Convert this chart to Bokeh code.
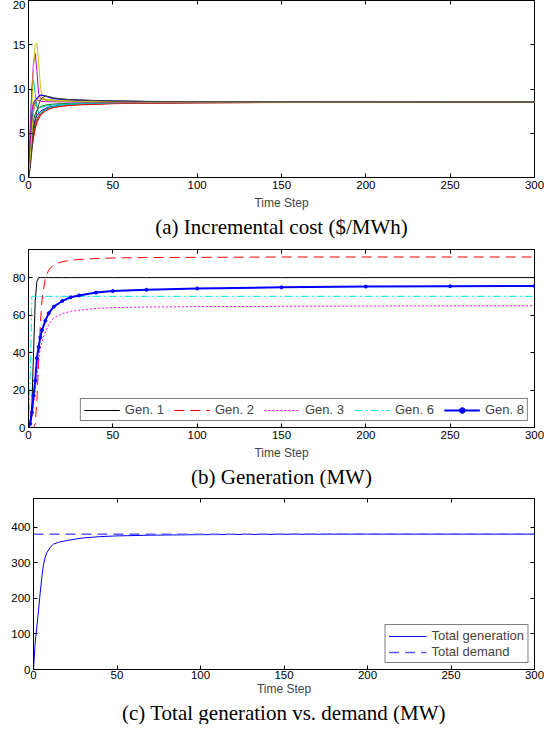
from bokeh.plotting import figure
from bokeh.models import Range1d, LinearAxis, FixedTicker, Title, Legend, LegendItem, Spacer
from bokeh.layouts import column, row
from bokeh.embed import file_html
from bokeh.resources import INLINE

# ---------------- data ----------------
x_ticks = [0, 50, 100, 150, 200, 250, 300]

# (a) incremental cost
t_a = [0, 1, 2, 3, 4, 5, 6, 7, 8, 10, 12, 15, 20, 25, 30, 40, 50, 70, 100, 150, 200, 250, 300]
cost_colors = ["#0000ff", "#008000", "#ff0000", "#00bfbf", "#bf00bf", "#c8c800", "#404040",
               "#0000ff", "#008000", "#ff0000", "#00bfbf", "#bf00bf", "#c8c800", "#404040"]
cost_1 = [0, 2.5, 4.5, 5.8, 6.6, 7.0, 7.25, 7.45, 7.6, 7.8, 7.95, 8.05, 8.15, 8.22, 8.27, 8.33, 8.38, 8.43, 8.46, 8.48, 8.49, 8.5, 8.5]
cost_2 = [0, 2.0, 4.0, 5.3, 6.1, 6.6, 7.0, 7.25, 7.45, 7.7, 7.85, 8.0, 8.12, 8.2, 8.25, 8.32, 8.37, 8.42, 8.45, 8.48, 8.49, 8.5, 8.5]
cost_3 = [0, 1.8, 3.6, 4.9, 5.8, 6.4, 6.8, 7.1, 7.3, 7.6, 7.8, 7.95, 8.1, 8.18, 8.24, 8.31, 8.36, 8.42, 8.45, 8.48, 8.49, 8.5, 8.5]
cost_4 = [0, 6.0, 10.0, 11.0, 9.5, 8.0, 7.3, 7.2, 7.35, 7.65, 7.85, 8.0, 8.15, 8.22, 8.28, 8.34, 8.39, 8.44, 8.47, 8.49, 8.5, 8.5, 8.5]
cost_5 = [0, 5.0, 10.0, 13.0, 14.0, 12.0, 9.5, 9.0, 8.85, 8.78, 8.73, 8.7, 8.66, 8.63, 8.61, 8.58, 8.56, 8.54, 8.52, 8.51, 8.5, 8.5, 8.5]
cost_6 = [0, 3.0, 8.0, 12.5, 15.0, 15.2, 13.0, 10.5, 9.0, 8.85, 8.8, 8.75, 8.7, 8.67, 8.64, 8.6, 8.58, 8.55, 8.53, 8.51, 8.5, 8.5, 8.5]
cost_7 = [0, 3.0, 6.0, 7.5, 8.3, 8.8, 9.1, 9.25, 9.3, 9.25, 9.1, 8.95, 8.85, 8.8, 8.76, 8.7, 8.65, 8.6, 8.56, 8.53, 8.52, 8.51, 8.5]
cost_8 = [0, 3.5, 6.5, 8.0, 8.7, 9.0, 9.2, 9.3, 9.3, 9.2, 9.05, 8.9, 8.82, 8.77, 8.73, 8.68, 8.64, 8.59, 8.55, 8.53, 8.52, 8.51, 8.5]
cost_9 = [0, 2.8, 5.2, 6.5, 7.2, 7.6, 7.85, 8.0, 8.08, 8.18, 8.25, 8.3, 8.35, 8.38, 8.41, 8.44, 8.46, 8.48, 8.49, 8.5, 8.5, 8.5, 8.5]
cost_10 = [0, 1.5, 3.2, 4.5, 5.5, 6.2, 6.6, 6.95, 7.2, 7.5, 7.7, 7.9, 8.05, 8.14, 8.2, 8.28, 8.34, 8.4, 8.44, 8.47, 8.49, 8.5, 8.5]
cost_11 = [0, 4.0, 7.0, 8.0, 8.2, 8.0, 7.9, 7.9, 7.95, 8.05, 8.12, 8.2, 8.27, 8.32, 8.35, 8.4, 8.43, 8.46, 8.48, 8.49, 8.5, 8.5, 8.5]
cost_12 = [0, 4.0, 7.5, 8.5, 8.8, 8.8, 8.7, 8.65, 8.6, 8.58, 8.56, 8.55, 8.54, 8.53, 8.52, 8.52, 8.51, 8.51, 8.5, 8.5, 8.5, 8.5, 8.5]
cost_13 = [0, 2.0, 5.0, 7.5, 8.5, 8.8, 8.9, 8.85, 8.8, 8.75, 8.7, 8.67, 8.64, 8.62, 8.6, 8.57, 8.55, 8.53, 8.52, 8.51, 8.5, 8.5, 8.5]
cost_14 = [0, 1.0, 3.0, 5.0, 6.5, 7.5, 8.2, 8.7, 9.0, 9.2, 9.15, 9.0, 8.88, 8.8, 8.75, 8.69, 8.64, 8.59, 8.55, 8.53, 8.52, 8.51, 8.5]
cost_series = [cost_1, cost_2, cost_3, cost_4, cost_5, cost_6, cost_7,
               cost_8, cost_9, cost_10, cost_11, cost_12, cost_13, cost_14]
cost_y_ticks = [0, 5, 10, 15, 20]

# (b) generation
t_b = [0, 1, 2, 3, 4, 5, 6, 7, 8, 10, 12, 15, 20, 25, 30, 40, 50, 70, 100, 150, 200, 250, 300]
gen_1 = [0, 3, 12, 40, 68, 78, 80, 80, 80, 80, 80, 80, 80, 80, 80, 80, 80, 80, 80, 80, 80, 80, 80]
gen_2 = [0, 0, 0, 0, 2, 15, 35, 55, 68, 80, 84, 87, 88.5, 89.3, 89.7, 90.2, 90.5, 90.7, 90.8, 91, 91, 91, 91]
gen_3 = [0, 1, 5, 12, 20, 28, 36, 42, 46, 51, 55, 58.5, 60.8, 62, 62.6, 63.5, 64, 64.3, 64.5, 64.7, 64.8, 64.9, 65]
gen_6 = [0, 25, 70, 70, 70, 70, 70, 70, 70, 70, 70, 70, 70, 70, 70, 70, 70, 70, 70, 70, 70, 70, 70]
gen_8 = [0, 2, 8, 17, 25, 37, 43, 48, 52, 57, 61, 64.5, 67.5, 69.5, 70.5, 72, 72.8, 73.5, 74.2, 74.8, 75.2, 75.4, 75.5]
gen_y_ticks = [0, 20, 40, 60, 80]

# (c) total generation vs demand
t_c = [0, 1, 2, 3, 4, 5, 6, 7, 8, 10, 12, 15, 20, 25, 30, 40, 50, 70, 100, 150, 200, 250, 300]
total_gen = [0, 75, 120, 165, 215, 260, 295, 315, 328, 343, 352, 357, 362, 366, 369.5, 373, 375, 377, 378.5, 379.5, 380, 380, 380]
t_demand = [0, 300]
total_demand = [380, 380]
tot_y_ticks = [0, 100, 200, 300, 400]

SANS = "Liberation Sans"
SERIF = "Liberation Serif"


def hidden_axis(ticks):
    return LinearAxis(ticker=FixedTicker(ticks=ticks), major_tick_in=4, major_tick_out=0,
                      major_tick_line_color="black", minor_tick_line_color=None,
                      axis_line_color=None, major_label_text_font_size="1px",
                      major_label_text_color=None, major_label_standoff=0)


def make_fig(width, height, ymax, yticks, caption, lab_so, axlab_so):
    p = figure(width=width, height=height, x_range=Range1d(0, 300), y_range=Range1d(0, ymax),
               output_backend="svg", toolbar_location=None,
               min_border_left=0, min_border_right=11, min_border_top=0,
               min_border_bottom=0)
    p.xgrid.visible = False
    p.ygrid.visible = False
    p.outline_line_color = "black"
    p.outline_line_width = 1
    p.xaxis.ticker = FixedTicker(ticks=x_ticks)
    p.yaxis.ticker = FixedTicker(ticks=yticks)
    for ax in p.xaxis + p.yaxis:
        ax.major_tick_in = 4
        ax.major_tick_out = 0
        ax.minor_tick_line_color = None
        ax.axis_line_color = "black"
        ax.major_tick_line_color = "black"
        ax.major_label_text_font = SANS
        ax.major_label_text_font_size = "11.5px"
        ax.major_label_text_color = "black"
        ax.major_label_standoff = 3
    p.xaxis.major_label_standoff = lab_so
    p.xaxis.axis_label = "Time Step"
    p.xaxis.axis_label_text_font = SANS
    p.xaxis.axis_label_text_font_size = "12px"
    p.xaxis.axis_label_text_font_style = "normal"
    p.xaxis.axis_label_standoff = axlab_so
    # box ticks on the top and right sides
    p.add_layout(hidden_axis(x_ticks), "above")
    p.add_layout(hidden_axis(yticks), "right")
    p.add_layout(Title(text=caption, align="center", text_font=SERIF, text_font_size="21px",
                       text_font_style="normal", text_color="black", standoff=0), "below")
    return p


# (a)
pa = make_fig(536, 238, 20, cost_y_ticks, "(a) Incremental cost ($/MWh)", 3, 4)
for ys, col in zip(cost_series, cost_colors):
    pa.line(t_a, ys, line_color=col, line_width=1)

# (b)
pb = make_fig(536, 239, 95, gen_y_ticks, "(b) Generation (MW)", 3, 4)
r1 = pb.line(t_b, gen_1, line_color="black", line_width=1)
r2 = pb.line(t_b, gen_2, line_color="#ff0000", line_width=1, line_dash="10 6")
r3 = pb.line(t_b, gen_3, line_color="#ff00ff", line_width=1, line_dash="2 2")
r6 = pb.line(t_b, gen_6, line_color="#00e5e5", line_width=1, line_dash="8 3 2 3")
r8 = pb.line(t_b, gen_8, line_color="#0000ff", line_width=2)
r8m = pb.scatter(t_b, gen_8, marker="circle", size=3, fill_color="#0000ff", line_color="#0000ff")
leg_b = Legend(items=[LegendItem(label="Gen. 1", renderers=[r1]),
                      LegendItem(label="Gen. 2", renderers=[r2]),
                      LegendItem(label="Gen. 3", renderers=[r3]),
                      LegendItem(label="Gen. 6", renderers=[r6]),
                      LegendItem(label="Gen. 8", renderers=[r8, r8m])],
               orientation="horizontal", location="bottom_right")
pb.add_layout(leg_b)

# (c)
pc = make_fig(537, 226, 480, tot_y_ticks, "(c) Total generation vs. demand (MW)", 1, 0)
rg = pc.line(t_c, total_gen, line_color="#0000ff", line_width=1)
rd = pc.line(t_demand, total_demand, line_color="#5a5aff", line_width=1.5, line_dash="10 6")
leg_c = Legend(items=[LegendItem(label="Total generation", renderers=[rg]),
                      LegendItem(label="Total demand", renderers=[rd])],
               orientation="vertical", location="bottom_right")
pc.add_layout(leg_c)

for leg in (leg_b, leg_c):
    leg.label_text_font = SANS
    leg.label_text_font_size = "13px"
    leg.border_line_color = "black"
    leg.border_line_width = 1
    leg.background_fill_color = "white"
    leg.background_fill_alpha = 1
    leg.padding = 3
    leg.spacing = 10
    leg.margin = 6
    leg.label_height = 14
    leg.glyph_height = 14
    leg.label_standoff = 5
    leg.glyph_width = 36
leg_c.spacing = 1
leg_c.glyph_width = 38

layout = column(row(Spacer(width=9), pa), Spacer(height=11),
                row(Spacer(width=9), pb), Spacer(height=10),
                row(Spacer(width=8), pc), spacing=0)
open("out.html", "w").write(file_html(layout, INLINE))
